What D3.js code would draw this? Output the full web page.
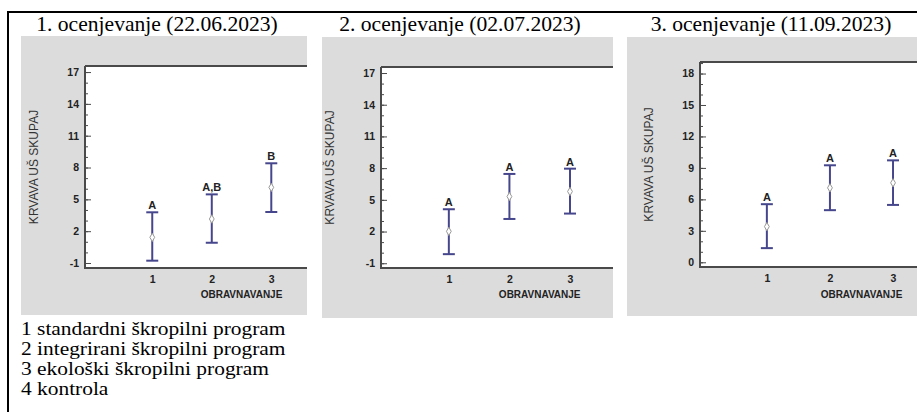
<!DOCTYPE html>
<html>
<head>
<meta charset="utf-8">
<script src="https://cdn.jsdelivr.net/npm/d3@7"></script>
<style>
  body { margin: 0; background: #fff; }
  svg { display: block; }
  .tick text { font-family: "Liberation Sans", Arial, sans-serif; font-weight: bold; font-size: 10.5px; fill: #222; }
</style>
</head>
<body>
<script>
// podatki
const categories = [1, 2, 3]
const titles = ['1. ocenjevanje (22.06.2023)', '2. ocenjevanje (02.07.2023)', '3. ocenjevanje (11.09.2023)']
const means1 = [1.42, 3.15, 6.13]
const lower1 = [-0.78, 0.91, 3.81]
const upper1 = [3.78, 5.47, 8.40]
const letters1 = ['A', 'A,B', 'B']
const means2 = [2.02, 5.31, 5.79]
const lower2 = [-0.14, 3.19, 3.70]
const upper2 = [4.11, 7.45, 7.95]
const letters2 = ['A', 'A', 'A']
const means3 = [3.40, 7.10, 7.58]
const lower3 = [1.35, 4.97, 5.47]
const upper3 = [5.54, 9.25, 9.72]
const letters3 = ['A', 'A', 'A']
const ticks12 = [-1, 2, 5, 8, 11, 14, 17]
const ticks3 = [0, 3, 6, 9, 12, 15, 18]
const legendItems = ['1 standardni škropilni program', '2 integrirani škropilni program', '3 ekološki škropilni program', '4 kontrola']

const w = 917, h = 412
const BAR = '#46468c'
const AXIS = '#4a4a4a'

// postavitev panelov (pikslji)
const panels = [
    { title: titles[0], means: means1, lower: lower1, upper: upper1, letters: letters1, ticks: ticks12, titleX: 157,
      gx0: 21, gx1: 307, gy0: 36, gy1: 315, left: 85, top: 66, bottom: 268, xDom: [-0.13, 3.6], yDom: [-1.47, 17.57] },
    { title: titles[1], means: means2, lower: lower2, upper: upper2, letters: letters2, ticks: ticks12, titleX: 460,
      gx0: 322, gx1: 613, gy0: 37, gy1: 318, left: 381, top: 67, bottom: 268, xDom: [-0.12, 3.71], yDom: [-1.45, 17.57] },
    { title: titles[2], means: means3, lower: lower3, upper: upper3, letters: letters3, ticks: ticks3, titleX: 771,
      gx0: 627, gx1: 917, gy0: 37, gy1: 316, left: 700, top: 62, bottom: 267, xDom: [-0.06, 3.38], yDom: [-0.45, 19.1] }
]

let svg = d3.select('body').append('svg')
    .attr('width', w)
    .attr('height', h)

// okvir
svg.append('path')
    .attr('d', 'M8,' + h + 'V12H' + w)
    .attr('fill', 'none')
    .attr('stroke', '#000')
    .attr('stroke-width', 2)

panels.forEach((p, pi) => {
    let x = d3.scaleLinear().domain(p.xDom).range([p.left, p.gx1])
    let y = d3.scaleLinear().domain(p.yDom).range([p.bottom, p.top])

    svg.append('text')
        .attr('transform', 'translate(' + p.titleX + ',31) scale(1.08,1)')
        .attr('text-anchor', 'middle')
        .style('font-family', '"Liberation Serif", "Times New Roman", serif')
        .style('font-size', '20px')
        .text(p.title)

    let clipId = 'clip' + pi
    svg.append('clipPath').attr('id', clipId)
        .append('rect')
        .attr('x', p.gx0).attr('y', p.gy0)
        .attr('width', p.gx1 - p.gx0).attr('height', p.gy1 - p.gy0)

    let g = svg.append('g').attr('clip-path', 'url(#' + clipId + ')')

    g.append('rect')
        .attr('x', p.gx0).attr('y', p.gy0)
        .attr('width', p.gx1 - p.gx0).attr('height', p.gy1 - p.gy0)
        .attr('fill', '#dcdcdc')

    g.append('rect')
        .attr('x', p.left).attr('y', p.top)
        .attr('width', p.gx1 - p.left).attr('height', p.bottom - p.top)
        .attr('fill', '#fff')

    // manjše oznake
    let minor = d3.range(Math.ceil(p.yDom[0]), Math.floor(p.yDom[1]) + 1)
    g.append('g')
        .attr('transform', 'translate(' + p.left + ',0)')
        .call(d3.axisLeft(y).tickValues(minor).tickSize(-3).tickFormat(''))
        .call(a => a.select('.domain').remove())
        .selectAll('line').attr('stroke', AXIS)

    let ax = g.append('g')
        .attr('transform', 'translate(' + p.left + ',0)')
        .call(d3.axisLeft(y).tickValues(p.ticks).tickSize(-6).tickPadding(6).tickFormat(d => String(d)))
    ax.select('.domain').remove()
    ax.selectAll('line').attr('stroke', AXIS)

    // osi
    g.append('path')
        .attr('d', 'M' + p.left + ',' + p.top + 'V' + p.bottom + 'H' + p.gx1)
        .attr('fill', 'none').attr('stroke', AXIS).attr('stroke-width', 2)
    g.append('line')
        .attr('x1', p.left).attr('x2', p.gx1)
        .attr('y1', p.top).attr('y2', p.top)
        .attr('stroke', AXIS).attr('stroke-width', 2)

    let xa = g.append('g')
        .attr('transform', 'translate(0,' + p.bottom + ')')
        .call(d3.axisBottom(x).tickValues(categories).tickSize(0).tickPadding(8).tickFormat(d => String(d)))
    xa.select('.domain').remove()

    g.append('text')
        .attr('x', x(2.5))
        .attr('y', 298)
        .attr('text-anchor', 'middle')
        .style('font-family', '"Liberation Sans", Arial, sans-serif')
        .style('font-weight', 'bold')
        .style('font-size', '10px')
        .attr('fill', '#222')
        .text('OBRAVNAVANJE')

    g.append('text')
        .attr('transform', 'translate(' + (p.left - 47) + ',' + ((p.top + p.bottom) / 2) + ') rotate(-90)')
        .attr('text-anchor', 'middle')
        .style('font-family', '"Liberation Sans", Arial, sans-serif')
        .style('font-size', '12px')
        .attr('fill', '#333')
        .text('KRVAVA UŠ SKUPAJ')

    let bars = g.selectAll('g.bar')
        .data(categories.map((c, i) => ({ c: c, m: p.means[i], lo: p.lower[i], hi: p.upper[i], l: p.letters[i] })))
        .enter()
        .append('g')
        .attr('class', 'bar')

    bars.append('line')
        .attr('x1', d => x(d.c)).attr('x2', d => x(d.c))
        .attr('y1', d => y(d.lo)).attr('y2', d => y(d.hi))
        .attr('stroke', BAR).attr('stroke-width', 2)
    bars.append('line')
        .attr('x1', d => x(d.c) - 6).attr('x2', d => x(d.c) + 6)
        .attr('y1', d => y(d.hi)).attr('y2', d => y(d.hi))
        .attr('stroke', BAR).attr('stroke-width', 2)
    bars.append('line')
        .attr('x1', d => x(d.c) - 6).attr('x2', d => x(d.c) + 6)
        .attr('y1', d => y(d.lo)).attr('y2', d => y(d.lo))
        .attr('stroke', BAR).attr('stroke-width', 2)
    bars.append('path')
        .attr('d', d3.symbol(d3.symbolDiamond, 20))
        .attr('transform', d => 'translate(' + x(d.c) + ',' + y(d.m) + ')')
        .attr('fill', '#fff').attr('stroke', '#999').attr('stroke-width', 1)
    bars.append('text')
        .attr('x', d => x(d.c)).attr('y', d => y(d.hi) - 3)
        .attr('text-anchor', 'middle')
        .style('font-family', '"Liberation Sans", Arial, sans-serif')
        .style('font-weight', 'bold')
        .style('font-size', '11px')
        .attr('fill', '#222')
        .text(d => d.l)
})

// legenda
svg.append('g')
    .attr('transform', 'translate(21,0) scale(1.19,1)')
    .selectAll('text')
    .data(legendItems)
    .enter()
    .append('text')
    .attr('x', 0)
    .attr('y', (d, i) => 335 + i * 20)
    .style('font-family', '"Liberation Serif", "Times New Roman", serif')
    .style('font-size', '18px')
    .text(d => d)
</script>
</body>
</html>
